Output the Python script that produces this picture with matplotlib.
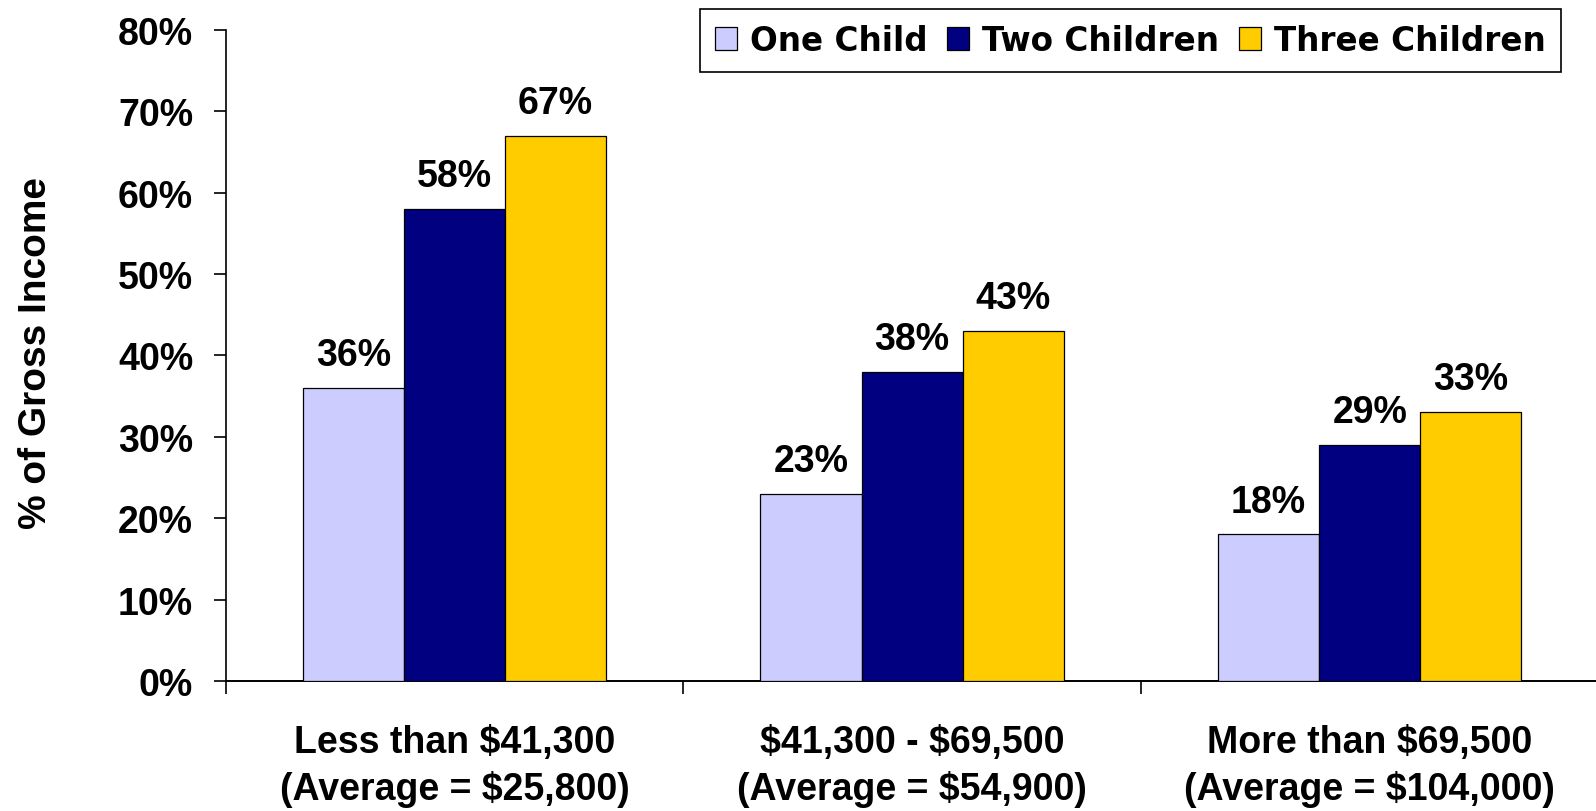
import matplotlib
matplotlib.use('Agg')
import matplotlib.pyplot as plt
import numpy as np
from matplotlib.transforms import blended_transform_factory
from matplotlib.font_manager import FontProperties

plt.rcParams['text.parse_math'] = False

# ---- data ----
categories_line1 = ['Less than $41,300', '$41,300 - $69,500', 'More than $69,500']
categories_line2 = ['(Average = $25,800)', '(Average = $54,900)', '(Average = $104,000)']
series_names = ['One Child', 'Two Children', 'Three Children']
one_child = [36, 23, 18]
two_children = [58, 38, 29]
three_children = [67, 43, 33]
y_ticks = [0, 10, 20, 30, 40, 50, 60, 70, 80]
y_tick_labels = ['0%', '10%', '20%', '30%', '40%', '50%', '60%', '70%', '80%']
y_label = '% of Gross Income'
colors = ['#CCCCFF', '#000080', '#FFCC00']

W, H = 1596, 812
fig = plt.figure(figsize=(W / 100, H / 100), dpi=100)
ax = fig.add_axes([225.7 / W, 130 / H, 1372.8 / W, 651.3 / H])

FAM = 'Liberation Sans'
x = np.arange(len(categories_line1))
w = 0.221
series = [one_child, two_children, three_children]
handles = []
for i, (vals, name, c) in enumerate(zip(series, series_names, colors)):
    bars = ax.bar(x + (i - 1) * w, vals, w, color=c, edgecolor='black',
                  linewidth=0.9, label=name, zorder=3)
    handles.append(bars)
    for b, v in zip(bars, vals):
        ax.annotate(f'{v}%', (b.get_x() + b.get_width() / 2, v),
                    xytext=(0, 16.5), textcoords='offset points',
                    ha='center', va='baseline', fontsize=27,
                    fontweight='bold', family=FAM)

ax.set_xlim(-0.5, 2.5)
ax.set_ylim(0, 80)
ax.set_yticks(y_ticks)
ax.set_yticklabels(y_tick_labels)
ax.set_xticks([-0.5, 0.5, 1.5])
ax.set_xticklabels([])
ax.tick_params(axis='y', direction='out', length=9, width=1.2, pad=14.4,
               labelsize=27)
ax.tick_params(axis='x', direction='out', length=9, width=1.2)
for lab in ax.get_yticklabels():
    lab.set_fontweight('bold')
    lab.set_family(FAM)
for s in ['top', 'right']:
    ax.spines[s].set_visible(False)
ax.spines['left'].set_linewidth(1.2)
ax.spines['bottom'].set_linewidth(1.4)

trans = blended_transform_factory(ax.transData, fig.transFigure)
for xi, l1, l2 in zip(x, categories_line1, categories_line2):
    fig.text(xi, (H - 753) / H, l1, transform=trans, ha='center', va='baseline',
             fontsize=27, fontweight='bold', family=FAM)
    fig.text(xi, (H - 800) / H, l2, transform=trans, ha='center', va='baseline',
             fontsize=27, fontweight='bold', family=FAM)

fig.text(36 / W, 1 - 353 / H, y_label, rotation=90, ha='center', va='center',
         fontsize=28, fontweight='bold', family=FAM)

leg = fig.legend(handles=handles, labels=series_names, loc='upper right',
                 bbox_to_anchor=(1561 / W, 1 - 10 / H), ncol=3,
                 prop=FontProperties(family='DejaVu Sans', weight='bold', size=23.5),
                 frameon=True, fancybox=False, edgecolor='black', framealpha=1,
                 borderpad=0.46, handlelength=0.67, handleheight=0.69,
                 handletextpad=0.41, columnspacing=0.6, borderaxespad=0)
leg.get_frame().set_linewidth(1.2)

fig.savefig('out.png', dpi=100)
